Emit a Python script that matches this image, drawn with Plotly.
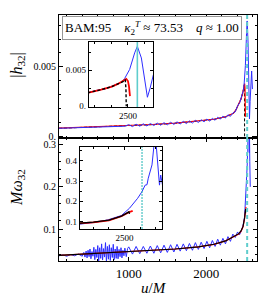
import plotly.graph_objects as go

# ---------------- data ----------------
t_merger = 2528

# |h32| : black (dashed), red, blue (NR)
u_h_black = [100, 400, 700, 1000, 1300, 1600, 1900, 2100, 2250, 2350, 2383, 2420, 2450, 2470, 2485, 2492, 2494, 2495]
h_black = [0.00058, 0.00064, 0.00070, 0.00076, 0.00084, 0.00094, 0.00108, 0.00122, 0.00140, 0.00165,
           0.0019, 0.0023, 0.0027, 0.0031, 0.0034, 0.0037, 0.0024, 0.0]

u_h_red = [100, 400, 700, 1000, 1300, 1600, 1900, 2100, 2250, 2350, 2383, 2420, 2450, 2470, 2485, 2495, 2500, 2503, 2506]
h_red = [0.00059, 0.00065, 0.00071, 0.00077, 0.00085, 0.00095, 0.00109, 0.00123, 0.00141, 0.00166,
         0.0019, 0.0023, 0.0027, 0.0031, 0.0035, 0.0038, 0.0035, 0.0028, 0.0014]

u_h_blue = [100, 300, 500, 700, 850, 950,
            1000, 1048, 1095, 1142, 1188, 1234, 1279, 1324, 1368, 1412, 1455, 1498, 1540, 1582,
            1623, 1664, 1704, 1744, 1783, 1822, 1860, 1898, 1935, 1972, 2008, 2044, 2079, 2114,
            2148, 2182, 2215, 2248, 2280, 2312, 2343, 2374, 2404, 2434, 2463,
            2480, 2490, 2505, 2520, 2528, 2540, 2550, 2558, 2566, 2576, 2586, 2596]
h_blue = [0.00058, 0.00062, 0.00066, 0.00070, 0.00074, 0.00073,
          0.00084, 0.00070, 0.00087, 0.00073, 0.00090, 0.00075, 0.00092, 0.00078, 0.00095, 0.00080,
          0.00098, 0.00083, 0.00101, 0.00086, 0.00104, 0.00089, 0.00108, 0.00092, 0.00111, 0.00096,
          0.00115, 0.00100, 0.00119, 0.00105, 0.00124, 0.00110, 0.00129, 0.00116, 0.00137, 0.00124,
          0.00145, 0.00132, 0.00155, 0.00144, 0.00168, 0.00176, 0.00218, 0.00244, 0.00302,
          0.0033, 0.00384, 0.0051, 0.0074, 0.0083, 0.0067, 0.0039, 0.00125, 0.0025, 0.0044, 0.0047, 0.0034]

# M omega32
u_w_black = [100, 400, 700, 1000, 1300, 1600, 1900, 2100, 2250, 2350, 2420, 2450, 2475, 2495, 2507, 2508]
w_black = [0.039, 0.042, 0.045, 0.048, 0.050, 0.054, 0.059, 0.065, 0.073, 0.082, 0.090, 0.097, 0.107,
           0.127, 0.148, 0.138]

u_w_red = [100, 400, 700, 1000, 1300, 1600, 1900, 2100, 2250, 2350, 2420, 2450, 2475, 2495, 2507, 2513]
w_red = [0.039, 0.042, 0.045, 0.048, 0.050, 0.054, 0.059, 0.065, 0.073, 0.082, 0.089, 0.096, 0.106,
         0.126, 0.146, 0.153]

u_w_blue = [100, 150, 200, 250, 300, 350, 400, 420, 435, 450, 462, 475, 488, 500, 512, 525, 538, 550,
            562, 575, 588, 600, 612, 625, 638, 650, 662, 675, 688, 700, 712, 725, 738, 750, 762, 775,
            788, 800, 812, 825, 838, 850, 862, 875, 888, 900, 912, 925, 938, 950, 968, 985,
            1000, 1048, 1095, 1142, 1188, 1234, 1279, 1324, 1368, 1412, 1455, 1498, 1540, 1582,
            1623, 1664, 1704, 1744, 1783, 1822, 1860, 1898, 1935, 1972, 2008, 2044, 2079, 2114,
            2148, 2182, 2215, 2248, 2280, 2312, 2343, 2374, 2404, 2428, 2452, 2473, 2495, 2508,
            2521, 2528, 2533, 2536, 2538, 2544, 2547, 2549, 2551, 2553, 2556, 2558, 2562, 2568]
w_blue = [0.038, 0.040, 0.037, 0.041, 0.038, 0.042, 0.037, 0.046, 0.035, 0.049, 0.033, 0.051, 0.036,
          0.054, 0.031, 0.048, 0.037, 0.058, 0.029, 0.053, 0.034, 0.062, 0.026, 0.057, 0.032, 0.066,
          0.028, 0.055, 0.035, 0.069, 0.024, 0.060, 0.030, 0.064, 0.027, 0.057, 0.034, 0.065, 0.029,
          0.054, 0.032, 0.060, 0.031, 0.053, 0.036, 0.057, 0.033, 0.051, 0.038, 0.056, 0.036, 0.055,
          0.059, 0.042, 0.060, 0.043, 0.060, 0.044, 0.061, 0.044, 0.062, 0.045, 0.063, 0.046, 0.064,
          0.047, 0.065, 0.049, 0.066, 0.050, 0.067, 0.051, 0.069, 0.053, 0.070, 0.055, 0.072, 0.057,
          0.074, 0.060, 0.077, 0.063, 0.079, 0.066, 0.083, 0.072, 0.089, 0.081, 0.094, 0.087, 0.096,
          0.108, 0.130, 0.166, 0.215, 0.248, 0.280, 0.282, 0.314, 0.380, 0.470, 0.560, 0.470, 0.380,
          0.280, 0.330, 0.260, 0.200]

label_text = "BAM:95&nbsp;&nbsp;&nbsp;&nbsp;<i>κ</i><sub>2</sub><sup><i>T</i></sup> ≈ 73.53&nbsp;&nbsp;&nbsp;&nbsp;<i>q</i> ≈ 1.00"

# ---------------- style ----------------
FONT = "Liberation Serif"
BLUE = "rgb(45,45,255)"
RED = "rgb(255,0,0)"
CYAN = "rgb(95,205,205)"

fig = go.Figure()

def add(x, y, xa, ya, color, width, dash="solid"):
    fig.add_trace(go.Scatter(x=x, y=y, xaxis=xa, yaxis=ya, mode="lines",
                             line=dict(color=color, width=width, dash=dash),
                             showlegend=False, hoverinfo="skip"))

# main top
add(u_h_black, h_black, "x2", "y2", "black", 1.0, "3px,2px")
add(u_h_red, h_red, "x2", "y2", RED, 1.2)
add(u_h_blue, h_blue, "x2", "y2", BLUE, 1)
# main bottom
add(u_w_blue, w_blue, "x", "y", BLUE, 1)
add(u_w_red, w_red, "x", "y", RED, 1.2)
add(u_w_black, w_black, "x", "y", "black", 1.1)
# inset top
add(u_h_blue, h_blue, "x3", "y3", BLUE, 1)
add(u_h_red, h_red, "x3", "y3", RED, 1.8)
add(u_h_black, h_black, "x3", "y3", "black", 1.4, "3px,2px")
# inset bottom
add(u_w_blue, w_blue, "x4", "y4", BLUE, 1)
add(u_w_red, w_red, "x4", "y4", RED, 1.8)
add(u_w_black, w_black, "x4", "y4", "black", 1.3)

def axis_common(**kw):
    d = dict(showline=True, linecolor="black", linewidth=1, mirror="ticks",
             ticks="inside", ticklen=4, tickcolor="black", tickwidth=1,
             showgrid=False, zeroline=False,
             tickfont=dict(family=FONT, size=10, color="black"))
    d.update(kw)
    return d

minor_x_main = dict(dtick=200, tick0=0, ticks="inside", ticklen=2, tickcolor="black")

fig.update_layout(
    width=270, height=298,
    margin=dict(l=59, r=13, t=15, b=37),
    paper_bgcolor="white", plot_bgcolor="white",
    font=dict(family=FONT, color="black"),
    xaxis=axis_common(domain=[0, 1], range=[100, 2655], anchor="y",
                      tickmode="array", tickvals=[1000, 2000], ticktext=["1000", "2000"],
                      tickfont=dict(family=FONT, size=13, color="black"), minor=minor_x_main),
    yaxis=axis_common(domain=[0, 0.5], range=[0.0258, 0.3147], anchor="x",
                      tickmode="array", tickvals=[0.1, 0.2, 0.3], ticktext=["0.1", "0.2", "0.3"],
                      minor=dict(dtick=0.02, tick0=0, ticks="inside", ticklen=2, tickcolor="black")),
    xaxis2=axis_common(domain=[0, 1], range=[100, 2655], anchor="y2", showticklabels=False,
                       tickmode="array", tickvals=[1000, 2000], minor=minor_x_main),
    yaxis2=axis_common(domain=[0.5, 1], range=[-0.00012, 0.00873], anchor="x2",
                       tickmode="array", tickvals=[0, 0.005], ticktext=["0.", "0.005"],
                       minor=dict(dtick=0.001, tick0=0, ticks="inside", ticklen=2, tickcolor="black")),
    xaxis3=axis_common(domain=[0.15, 0.477], range=[2383, 2576], anchor="y3",
                       tickmode="array", tickvals=[2500], ticktext=["2500"], ticklen=3,
                       tickfont=dict(family=FONT, size=9, color="black"),
                       minor=dict(dtick=50, tick0=0, ticks="inside", ticklen=2, tickcolor="black")),
    yaxis3=axis_common(domain=[0.626, 0.890], range=[-0.0001, 0.0089], anchor="x3",
                       tickmode="array", tickvals=[0, 0.005], ticktext=["0.", "0.005"], ticklen=3,
                       tickfont=dict(family=FONT, size=9, color="black"),
                       minor=dict(dtick=0.0025, tick0=0, ticks="inside", ticklen=2, tickcolor="black")),
    xaxis4=axis_common(domain=[0.1045, 0.52], range=[2428, 2560], anchor="y4",
                       tickmode="array", tickvals=[2500], ticktext=["2500"], ticklen=3,
                       tickfont=dict(family=FONT, size=9, color="black"),
                       minor=dict(dtick=25, tick0=0, ticks="inside", ticklen=2, tickcolor="black")),
    yaxis4=axis_common(domain=[0.13, 0.463], range=[0.063, 0.468], anchor="x4",
                       tickmode="array", tickvals=[0.1, 0.2, 0.3, 0.4], ticktext=["0.1", "0.2", "0.3", "0.4"],
                       ticklen=3, tickfont=dict(family=FONT, size=9, color="black"),
                       minor=dict(dtick=0.05, tick0=0, ticks="inside", ticklen=2, tickcolor="black")),
)

# merger lines
fig.add_shape(type="line", xref="x2", yref="y2 domain", x0=t_merger, x1=t_merger, y0=0, y1=1,
              line=dict(color=CYAN, width=2, dash="4px,3px"))
fig.add_shape(type="line", xref="x", yref="y domain", x0=t_merger, x1=t_merger, y0=0, y1=1,
              line=dict(color=CYAN, width=2, dash="4px,3px"))
fig.add_shape(type="line", xref="x3", yref="y3 domain", x0=t_merger, x1=t_merger, y0=0, y1=1,
              line=dict(color=CYAN, width=1.6))
fig.add_shape(type="line", xref="x4", yref="y4 domain", x0=t_merger, x1=t_merger, y0=0, y1=1,
              line=dict(color="rgb(30,180,180)", width=1, dash="2px,1px"))

# label box
fig.add_annotation(xref="paper", yref="paper", x=0.468, y=0.949, text=label_text, showarrow=False,
                   font=dict(family=FONT, size=13, color="black"), bgcolor="white",
                   bordercolor="rgb(150,150,150)", borderwidth=1, borderpad=2,
                   xanchor="center", yanchor="middle")

# axis titles
fig.add_annotation(xref="paper", yref="paper", x=-0.2136, y=0.7965, text="|<i>h</i><sub>32</sub>|",
                   textangle=-90, showarrow=False, font=dict(family=FONT, size=16, color="black"),
                   xanchor="center", yanchor="middle")
fig.add_annotation(xref="paper", yref="paper", x=-0.2136, y=0.30, text="<i>Mω</i><sub>32</sub>",
                   textangle=-90, showarrow=False, font=dict(family=FONT, size=16, color="black"),
                   xanchor="center", yanchor="middle")
fig.add_annotation(xref="paper", yref="paper", x=0.478, y=-0.11, text="<i>u</i>/<i>M</i>",
                   showarrow=False, font=dict(family=FONT, size=15, color="black"),
                   xanchor="center", yanchor="middle")

fig.write_html("out.html", config={"displayModeBar": False},
               post_script="document.body.style.margin='0';document.body.style.overflow='hidden';")
